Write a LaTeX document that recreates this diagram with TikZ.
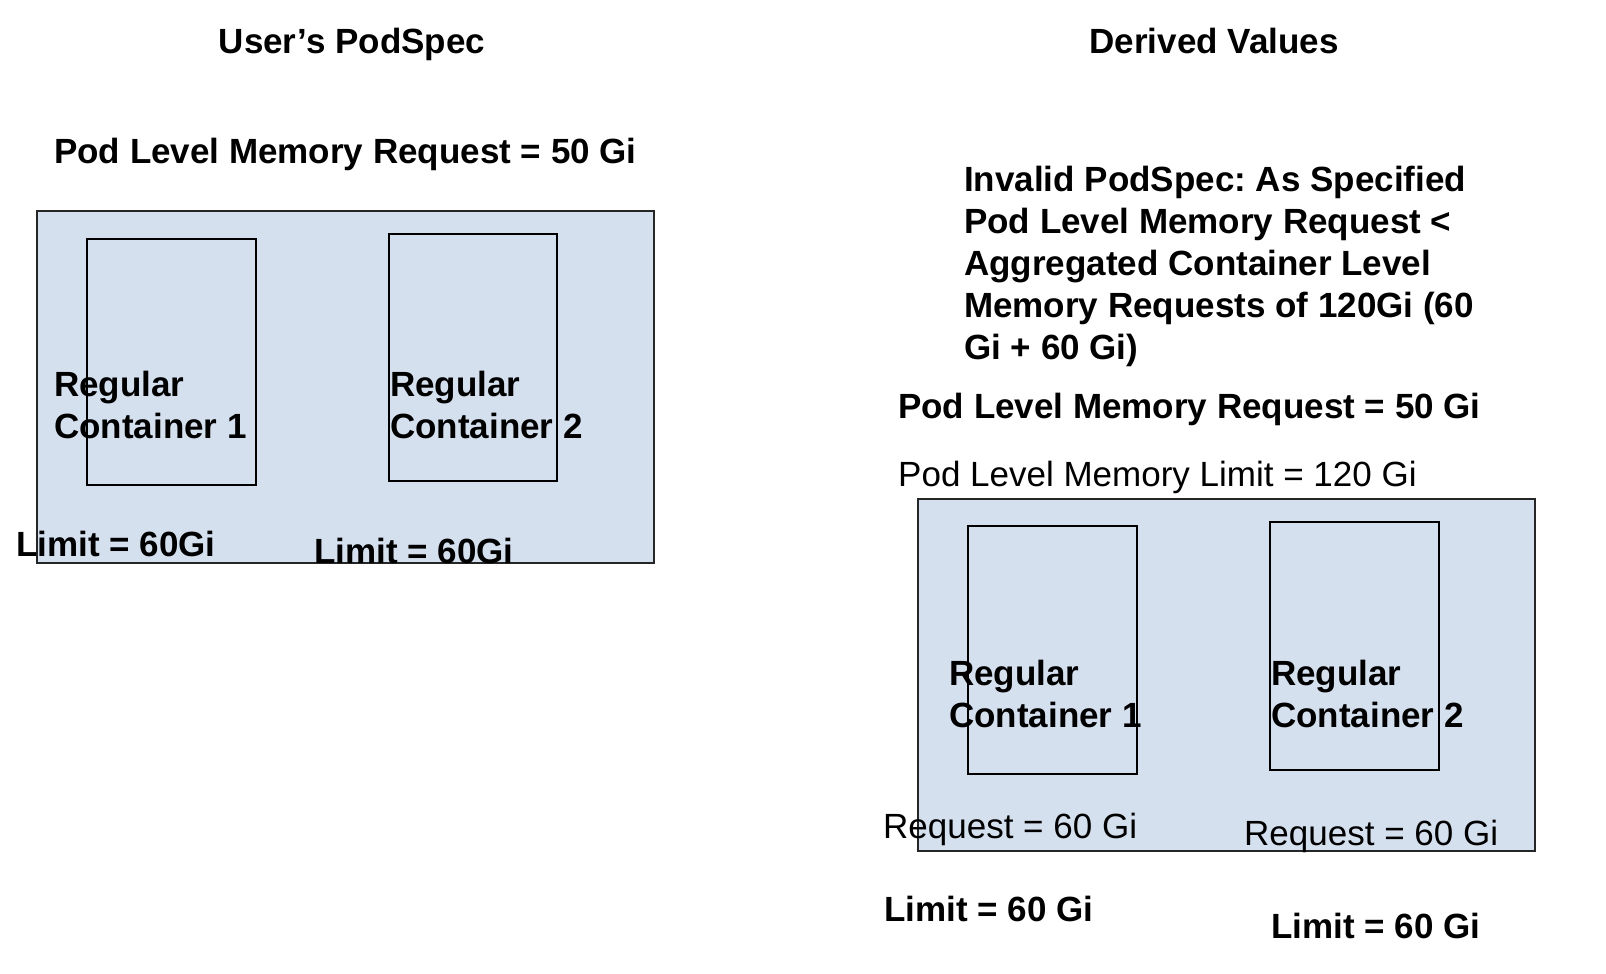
\documentclass[tikz,border=0pt]{standalone}
\usepackage{fontspec}
\setmainfont{Liberation Sans}
\frenchspacing
\definecolor{podfill}{RGB}{213,224,239}
\tikzset{
  podbox/.style={draw=black!85, fill=podfill, line width=1.8pt, anchor=north west, inner sep=0pt},
  ctrbox/.style={draw=black, fill=podfill, line width=1.8pt, anchor=north west, inner sep=0pt, minimum width=169pt},
  bt/.style={anchor=base west, inner sep=0pt, font=\fontsize{35}{41.5}\selectfont\bfseries},
  rt/.style={anchor=base west, inner sep=0pt, font=\fontsize{35}{41.5}\selectfont},
  tt/.style={anchor=base, inner sep=0pt, font=\fontsize{35}{41.5}\selectfont\bfseries}
}
\begin{document}
\begin{tikzpicture}[x=1pt,y=-1pt]
\useasboundingbox (0,0) rectangle (1606,974);
% titles
\node[tt] (t1) at (352,53) {User’s PodSpec};
\node[tt] (t2) at (1214,53) {Derived Values};
% left side
\node[bt] (lreq) at (54,163) {Pod Level Memory Request = 50 Gi};
\node[podbox, minimum width=617pt, minimum height=352pt] (lpod) at (36,210) {};
\node[ctrbox, minimum height=246pt] (lc1) at (86,238) {};
\node[ctrbox, minimum width=168pt, minimum height=247pt] (lc2) at (388,233) {};
\node[bt] (lc1a) at (54,396) {Regular};
\node[bt] (lc1b) at (54,438) {Container 1};
\node[bt] (lc2a) at (390,396) {Regular};
\node[bt] (lc2b) at (390,438) {Container 2};
\node[bt] (llim1) at (16,556) {Limit = 60Gi};
\node[bt] (llim2) at (314,563) {Limit = 60Gi};
% right side
\node[bt] (inv1) at (964,191.5) {Invalid PodSpec: As Specified};
\node[bt] (inv2) at (964,233) {Pod Level Memory Request <};
\node[bt] (inv3) at (964,275) {Aggregated Container Level};
\node[bt] (inv4) at (964,317) {Memory Requests of 120Gi (60};
\node[bt] (inv5) at (964,359) {Gi + 60 Gi)};
\node[bt] (rreq) at (898,418) {Pod Level Memory Request = 50 Gi};
\node[rt] (rlim) at (898,486.5) {Pod Level Memory Limit = 120 Gi};
\node[podbox, minimum width=617pt, minimum height=352pt] (rpod) at (917,498) {};
\node[ctrbox, minimum height=248pt] (rc1) at (967,525) {};
\node[ctrbox, minimum height=248pt] (rc2) at (1269,521) {};
\node[bt] (rc1a) at (949,685) {Regular};
\node[bt] (rc1b) at (949,727) {Container 1};
\node[bt] (rc2a) at (1271,685) {Regular};
\node[bt] (rc2b) at (1271,727) {Container 2};
\node[rt] (rq1) at (883,838) {Request = 60 Gi};
\node[rt] (rq2) at (1244,845) {Request = 60 Gi};
\node[bt] (rl1) at (884,921) {Limit = 60 Gi};
\node[bt] (rl2) at (1271,938) {Limit = 60 Gi};
\end{tikzpicture}
\end{document}
